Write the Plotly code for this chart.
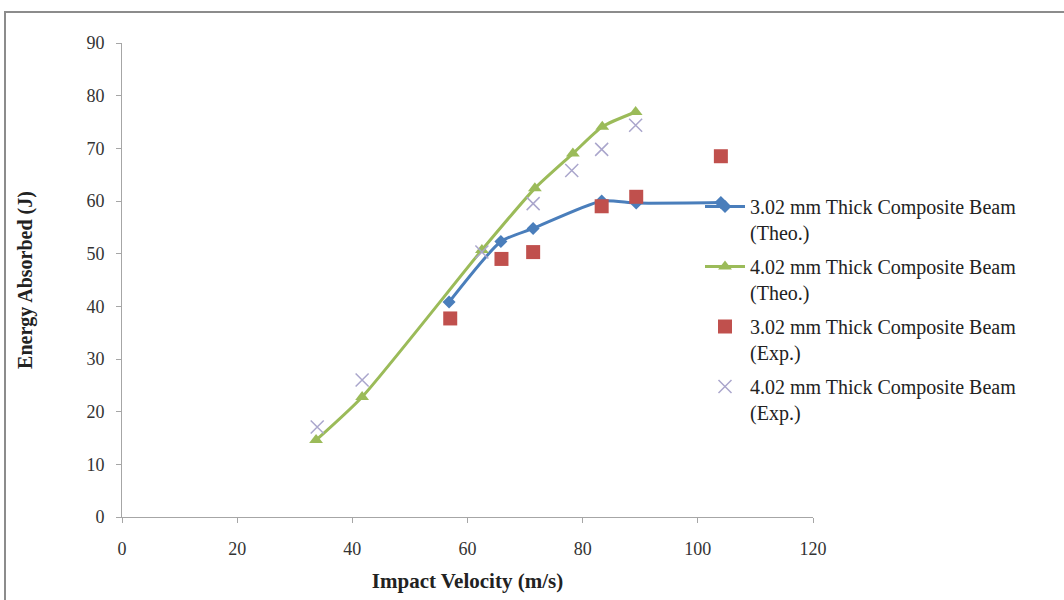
import plotly.graph_objects as go

# Data
v_302_theo = [56.8, 65.8, 71.4, 83.3, 89.3, 104.0]
e_302_theo = [40.8, 52.3, 54.8, 60.0, 59.6, 59.7]

v_402_theo = [33.7, 41.7, 62.5, 71.7, 78.3, 83.4, 89.2]
e_402_theo = [14.6, 22.8, 50.7, 62.4, 69.0, 74.1, 76.9]

v_302_exp = [57.0, 65.9, 71.4, 83.3, 89.3, 104.0]
e_302_exp = [37.7, 49.0, 50.3, 59.0, 60.8, 68.5]

v_402_exp = [33.9, 41.7, 62.5, 71.4, 78.1, 83.3, 89.2]
e_402_exp = [17.1, 26.0, 50.3, 59.5, 65.8, 69.8, 74.4]

x_ticks = [0, 20, 40, 60, 80, 100, 120]
y_ticks = [0, 10, 20, 30, 40, 50, 60, 70, 80, 90]

names = [
    "3.02 mm Thick Composite Beam<br>(Theo.)",
    "4.02 mm Thick Composite Beam<br>(Theo.)",
    "3.02 mm Thick Composite Beam<br>(Exp.)",
    "4.02 mm Thick Composite Beam<br>(Exp.)",
]

FONT = "Liberation Serif"

fig = go.Figure()
fig.add_trace(go.Scatter(
    x=v_302_theo, y=e_302_theo, name=names[0], legendgroup="a",
    mode="lines+markers", line=dict(color="#4a7ebb", width=3, shape="spline", smoothing=0.6),
    marker=dict(symbol="diamond", size=10, color="#4a7ebb")))
fig.add_trace(go.Scatter(
    x=v_402_theo, y=e_402_theo, name=names[1], legendgroup="b",
    mode="lines+markers", line=dict(color="#9bbb59", width=3, shape="spline", smoothing=0.6),
    marker=dict(symbol="triangle-up", size=12, color="#9bbb59")))
fig.add_trace(go.Scatter(
    x=v_302_exp, y=e_302_exp, name=names[2], legendgroup="c",
    mode="markers", marker=dict(symbol="square", size=14, color="#c0504d")))
fig.add_trace(go.Scatter(
    x=v_402_exp, y=e_402_exp, name=names[3], legendgroup="d",
    mode="markers", marker=dict(symbol="x-thin", size=13, color="#aaa6cc",
                                line=dict(color="#aaa6cc", width=1.5))))

axis_common = dict(
    showgrid=False, zeroline=False, showline=True, linecolor="#a6a6a6", linewidth=1,
    ticks="outside", ticklen=5, tickcolor="#a6a6a6",
    tickfont=dict(family=FONT, size=18, color="#333333"),
)

fig.update_xaxes(range=[0, 120], tickvals=x_ticks, ticklabelstandoff=10, **axis_common,
                 title=dict(text="<b>Impact Velocity (m/s)</b>",
                            font=dict(family=FONT, size=21, color="#222222"), standoff=15))
fig.update_yaxes(range=[0, 90], tickvals=y_ticks, ticklabelstandoff=8, **axis_common,
                 title=dict(text="<b>Energy Absorbed (J)</b>",
                            font=dict(family=FONT, size=20, color="#222222"), standoff=48))

fig.add_shape(type="rect", xref="paper", yref="paper",
              x0=(5 - 122) / 691, x1=(1075 - 122) / 691,
              y0=(517 - 610) / 474, y1=(517 - 12) / 474,
              line=dict(color="#8c8c8c", width=2), fillcolor="rgba(0,0,0,0)", layer="below")

fig.update_layout(
    width=1064, height=600,
    margin=dict(l=122, r=251, t=43, b=83, autoexpand=False),
    paper_bgcolor="white", plot_bgcolor="white",
    showlegend=True,
    legend=dict(x=(700 - 122) / 691, y=(517 - 187) / 474, xanchor="left", yanchor="top",
                font=dict(family=FONT, size=20, color="#222222"),
                valign="top", tracegroupgap=5, bgcolor="rgba(0,0,0,0)",
                itemwidth=40),
)

fig.write_html("out.html")
